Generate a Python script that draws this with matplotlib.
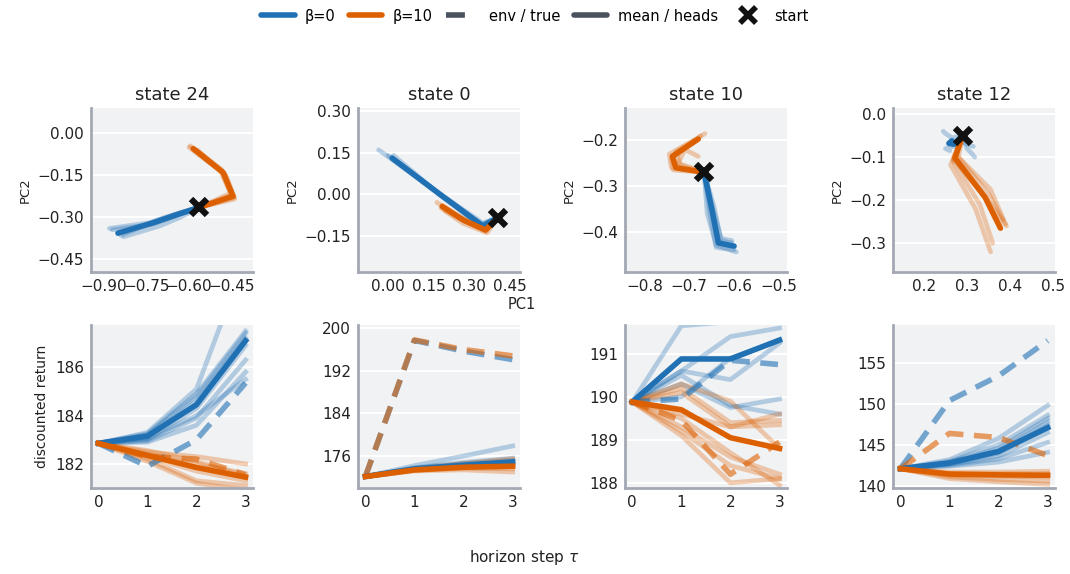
import matplotlib
matplotlib.use("Agg")
import matplotlib.pyplot as plt
from matplotlib.lines import Line2D

BLUE = "#2070b4"
ORANGE = "#dd6000"
GRAY = "#4a5260"

STATES = ["state 24", "state 0", "state 10", "state 12"]
STEPS = [0, 1, 2, 3]

# ---- top row: PC1 / PC2 trajectories, each entry is (pc1 list, pc2 list)
S24_START = (-0.565, -0.265)
S24_B0_MEAN = ([-0.565, -0.64, -0.72, -0.85], [-0.265, -0.29, -0.318, -0.357])
S24_B0_HEADS = [
    ([-0.565, -0.645, -0.73, -0.87], [-0.265, -0.295, -0.325, -0.345]),
    ([-0.565, -0.635, -0.71, -0.84], [-0.265, -0.285, -0.31, -0.365]),
    ([-0.565, -0.65, -0.74, -0.88], [-0.265, -0.29, -0.32, -0.34]),
    ([-0.565, -0.63, -0.70, -0.83], [-0.265, -0.30, -0.33, -0.37]),
]
S24_B10_MEAN = ([-0.565, -0.445, -0.48, -0.585], [-0.265, -0.225, -0.14, -0.055])
S24_B10_HEADS = [
    ([-0.565, -0.44, -0.47, -0.58], [-0.265, -0.23, -0.15, -0.06]),
    ([-0.565, -0.45, -0.49, -0.60], [-0.265, -0.22, -0.135, -0.05]),
    ([-0.565, -0.455, -0.485, -0.595], [-0.265, -0.215, -0.13, -0.045]),
    ([-0.565, -0.44, -0.475, -0.57], [-0.265, -0.235, -0.145, -0.06]),
]

S0_START = (0.405, -0.085)
S0_B0_MEAN = ([0.405, 0.35, 0.19, 0.015], [-0.085, -0.115, 0.0, 0.13])
S0_B0_HEADS = [
    ([0.405, 0.345, 0.17, -0.035], [-0.085, -0.11, 0.015, 0.16]),
    ([0.405, 0.355, 0.20, 0.02], [-0.085, -0.12, -0.01, 0.14]),
    ([0.405, 0.35, 0.185, 0.0], [-0.085, -0.105, 0.005, 0.14]),
    ([0.405, 0.34, 0.20, 0.03], [-0.085, -0.12, -0.005, 0.12]),
]
S0_B10_MEAN = ([0.405, 0.36, 0.28, 0.20], [-0.085, -0.13, -0.095, -0.045])
S0_B10_HEADS = [
    ([0.405, 0.36, 0.27, 0.18], [-0.085, -0.135, -0.09, -0.03]),
    ([0.405, 0.355, 0.285, 0.21], [-0.085, -0.125, -0.10, -0.06]),
    ([0.405, 0.365, 0.275, 0.195], [-0.085, -0.14, -0.105, -0.05]),
    ([0.405, 0.35, 0.27, 0.20], [-0.085, -0.12, -0.085, -0.04]),
]

S10_START = (-0.667, -0.27)
S10_B0_MEAN = ([-0.667, -0.65, -0.635, -0.60], [-0.27, -0.35, -0.425, -0.432])
S10_B0_HEADS = [
    ([-0.667, -0.655, -0.64, -0.60], [-0.27, -0.355, -0.435, -0.44]),
    ([-0.667, -0.645, -0.63, -0.605], [-0.27, -0.345, -0.415, -0.42]),
    ([-0.667, -0.66, -0.64, -0.595], [-0.27, -0.36, -0.43, -0.445]),
    ([-0.667, -0.65, -0.628, -0.605], [-0.27, -0.34, -0.42, -0.425]),
]
S10_B10_MEAN = ([-0.667, -0.73, -0.738, -0.68], [-0.27, -0.26, -0.235, -0.197])
S10_B10_HEADS = [
    ([-0.667, -0.72, -0.73, -0.665], [-0.27, -0.255, -0.225, -0.185]),
    ([-0.667, -0.735, -0.74, -0.675], [-0.27, -0.265, -0.24, -0.19]),
    ([-0.667, -0.725, -0.71, -0.68], [-0.27, -0.25, -0.22, -0.235]),
    ([-0.667, -0.74, -0.745, -0.69], [-0.27, -0.26, -0.23, -0.20]),
]

S12_START = (0.29, -0.05)
S12_B0_MEAN = ([0.29, 0.27, 0.258, 0.265], [-0.05, -0.07, -0.068, -0.062])
S12_B0_HEADS = [
    ([0.29, 0.265, 0.25, 0.245], [-0.05, -0.055, -0.045, -0.04]),
    ([0.29, 0.30, 0.31, 0.318], [-0.05, -0.08, -0.09, -0.10]),
    ([0.29, 0.27, 0.25, 0.26], [-0.05, -0.075, -0.08, -0.085]),
    ([0.29, 0.28, 0.30, 0.315], [-0.05, -0.06, -0.07, -0.075]),
]
S12_B10_MEAN = ([0.29, 0.272, 0.342, 0.378], [-0.05, -0.102, -0.193, -0.265])
S12_B10_HEADS = [
    ([0.29, 0.262, 0.32, 0.355], [-0.05, -0.118, -0.22, -0.32]),
    ([0.29, 0.268, 0.33, 0.36], [-0.05, -0.11, -0.21, -0.30]),
    ([0.29, 0.28, 0.35, 0.39], [-0.05, -0.10, -0.185, -0.255]),
    ([0.29, 0.275, 0.355, 0.385], [-0.05, -0.095, -0.175, -0.245]),
    ([0.29, 0.268, 0.34, 0.392], [-0.05, -0.105, -0.19, -0.26]),
]

PC_LIMS = [
    ((-0.945, -0.375), (-0.496, 0.09)),
    ((-0.111, 0.487), (-0.282, 0.311)),
    ((-0.844, -0.482), (-0.489, -0.129)),
    ((0.128, 0.505), (-0.367, 0.014)),
]
PC_XTICKS = [[-0.90, -0.75, -0.60, -0.45], [0.00, 0.15, 0.30, 0.45],
             [-0.8, -0.7, -0.6, -0.5], [0.2, 0.3, 0.4, 0.5]]
PC_YTICKS = [[0.00, -0.15, -0.30, -0.45], [0.30, 0.15, 0.00, -0.15],
             [-0.2, -0.3, -0.4], [0.0, -0.1, -0.2, -0.3]]
PC_FMT = ["{:.2f}", "{:.2f}", "{:.1f}", "{:.1f}"]

# ---- bottom row: discounted return per horizon step
S24_RET_B0_MEAN = [182.85, 183.15, 184.45, 187.1]
S24_RET_B10_MEAN = [182.85, 182.35, 181.85, 181.45]
S24_RET_B0_TRUE = [182.85, 181.9, 183.0, 185.35]
S24_RET_B10_TRUE = [182.85, 182.3, 182.2, 181.55]
S24_RET_B0_HEADS = [
    [182.85, 183.3, 185.1, 190.5],
    [182.85, 183.2, 184.8, 187.4],
    [182.85, 183.1, 184.6, 187.2],
    [182.85, 183.0, 184.3, 186.9],
    [182.85, 183.25, 184.9, 187.5],
    [182.85, 182.95, 183.9, 186.3],
    [182.85, 182.9, 183.6, 185.8],
    [182.85, 183.05, 184.0, 185.5],
]
S24_RET_B10_HEADS = [
    [182.85, 182.5, 182.3, 182.0],
    [182.85, 182.4, 182.0, 181.6],
    [182.85, 182.3, 181.7, 181.3],
    [182.85, 182.2, 181.3, 181.1],
    [182.85, 182.55, 182.1, 181.5],
    [182.85, 182.1, 181.2, 180.9],
]

S0_RET_B0_MEAN = [172.15, 173.6, 174.3, 174.9]
S0_RET_B10_MEAN = [172.15, 173.4, 173.9, 174.1]
S0_RET_B0_TRUE = [172.15, 197.7, 195.7, 194.1]
S0_RET_B10_TRUE = [172.15, 197.8, 196.0, 194.8]
S0_RET_B0_HEADS = [
    [172.15, 174.2, 176.0, 177.9],
    [172.15, 173.8, 174.8, 175.6],
    [172.15, 173.7, 174.6, 175.2],
    [172.15, 173.5, 174.1, 174.6],
]
S0_RET_B10_HEADS = [
    [172.15, 173.6, 174.6, 175.5],
    [172.15, 173.5, 174.2, 174.8],
    [172.15, 173.3, 173.7, 173.6],
    [172.15, 173.2, 173.4, 173.0],
    [172.15, 173.4, 173.9, 174.3],
]

S10_RET_B0_MEAN = [189.88, 190.88, 190.88, 191.32]
S10_RET_B10_MEAN = [189.88, 189.7, 189.05, 188.8]
S10_RET_B0_TRUE = [189.88, 189.95, 190.85, 190.75]
S10_RET_B10_TRUE = [189.88, 189.45, 188.2, 188.95]
S10_RET_B0_HEADS = [
    [189.88, 191.65, 191.75, 191.85],
    [189.88, 190.6, 191.4, 191.6],
    [189.88, 190.6, 190.4, 191.25],
    [189.88, 190.3, 189.75, 189.95],
    [189.88, 190.5, 189.8, 189.6],
    [189.88, 190.0, 190.9, 191.3],
]
S10_RET_B10_HEADS = [
    [189.88, 190.3, 189.9, 188.8],
    [189.88, 190.2, 189.4, 189.45],
    [189.88, 190.1, 189.3, 189.35],
    [189.88, 189.6, 189.3, 189.6],
    [189.88, 189.2, 188.4, 188.1],
    [189.88, 189.1, 188.0, 188.1],
    [189.88, 189.5, 188.7, 187.95],
    [189.88, 189.3, 188.6, 188.2],
]

S12_RET_B0_MEAN = [142.1, 142.8, 144.2, 147.1]
S12_RET_B10_MEAN = [142.1, 141.45, 141.35, 141.3]
S12_RET_B0_TRUE = [142.1, 150.4, 153.4, 157.7]
S12_RET_B10_TRUE = [142.1, 146.4, 145.9, 143.7]
S12_RET_B0_HEADS = [
    [142.1, 143.2, 145.8, 149.8],
    [142.1, 143.0, 145.0, 148.6],
    [142.1, 142.9, 144.6, 148.2],
    [142.1, 142.8, 144.3, 147.8],
    [142.1, 142.7, 144.0, 147.4],
    [142.1, 142.6, 143.6, 146.5],
    [142.1, 142.5, 143.3, 145.3],
    [142.1, 142.4, 142.9, 144.1],
]
S12_RET_B10_HEADS = [
    [142.1, 141.7, 141.7, 141.8],
    [142.1, 141.5, 141.5, 141.5],
    [142.1, 141.3, 141.2, 141.1],
    [142.1, 141.1, 140.8, 140.6],
    [142.1, 140.9, 140.5, 140.2],
]

RET_YLIMS = [(181.0, 187.75), (170.0, 200.6), (187.88, 191.67), (139.75, 159.6)]
RET_YTICKS = [[182, 184, 186], [176, 184, 192, 200], [188, 189, 190, 191],
              [140, 145, 150, 155]]

PC_DATA = [
    (S24_START, S24_B0_MEAN, S24_B0_HEADS, S24_B10_MEAN, S24_B10_HEADS),
    (S0_START, S0_B0_MEAN, S0_B0_HEADS, S0_B10_MEAN, S0_B10_HEADS),
    (S10_START, S10_B0_MEAN, S10_B0_HEADS, S10_B10_MEAN, S10_B10_HEADS),
    (S12_START, S12_B0_MEAN, S12_B0_HEADS, S12_B10_MEAN, S12_B10_HEADS),
]
RET_DATA = [
    (S24_RET_B0_MEAN, S24_RET_B0_HEADS, S24_RET_B0_TRUE,
     S24_RET_B10_MEAN, S24_RET_B10_HEADS, S24_RET_B10_TRUE),
    (S0_RET_B0_MEAN, S0_RET_B0_HEADS, S0_RET_B0_TRUE,
     S0_RET_B10_MEAN, S0_RET_B10_HEADS, S0_RET_B10_TRUE),
    (S10_RET_B0_MEAN, S10_RET_B0_HEADS, S10_RET_B0_TRUE,
     S10_RET_B10_MEAN, S10_RET_B10_HEADS, S10_RET_B10_TRUE),
    (S12_RET_B0_MEAN, S12_RET_B0_HEADS, S12_RET_B0_TRUE,
     S12_RET_B10_MEAN, S12_RET_B10_HEADS, S12_RET_B10_TRUE),
]

HEAD_LW = 3.4
MEAN_LW = 4.0
DASH = (0, (3.2, 1.9))


def style_axes(ax):
    ax.set_facecolor("#f1f2f4")
    for side in ("top", "right"):
        ax.spines[side].set_visible(False)
    for side in ("left", "bottom"):
        ax.spines[side].set_color("#a3a8b3")
        ax.spines[side].set_linewidth(2.0)
    ax.tick_params(length=0, labelsize=11, colors="#222222", pad=5)
    ax.yaxis.grid(True, color="white", linewidth=1.5)
    ax.xaxis.grid(False)
    ax.set_axisbelow(True)


fig = plt.figure(figsize=(10.7, 5.74), dpi=100)
lefts = [0.085, 0.3346, 0.584, 0.8346]
width = 0.1514

for i in range(4):
    # top row
    ax = fig.add_axes([lefts[i], 0.526, width, 0.2857])
    style_axes(ax)
    start, b0_mean, b0_heads, b10_mean, b10_heads = PC_DATA[i]
    for hx, hy in b0_heads:
        ax.plot(hx, hy, color=BLUE, lw=HEAD_LW, alpha=0.3, solid_capstyle="round")
    for hx, hy in b10_heads:
        ax.plot(hx, hy, color=ORANGE, lw=HEAD_LW, alpha=0.3, solid_capstyle="round")
    ax.plot(*b0_mean, color=BLUE, lw=MEAN_LW, solid_capstyle="round")
    ax.plot(*b10_mean, color=ORANGE, lw=MEAN_LW, solid_capstyle="round")
    ax.plot(*start, marker="x", color="#111111", ms=11, mew=4.5, zorder=5)
    (xl, yl) = PC_LIMS[i]
    ax.set_xlim(*xl)
    ax.set_ylim(*yl)
    ax.set_xticks(PC_XTICKS[i])
    ax.set_xticklabels([PC_FMT[i].format(v).replace("-", "\u2212") for v in PC_XTICKS[i]])
    ax.set_yticks(PC_YTICKS[i])
    ax.set_yticklabels([PC_FMT[i].format(v).replace("-", "\u2212") for v in PC_YTICKS[i]])
    ax.set_ylabel("PC2", fontsize=9.5, color="#222222")
    ax.set_title(STATES[i], fontsize=13, color="#222222")

    # bottom row
    ax2 = fig.add_axes([lefts[i], 0.1498, width, 0.284])
    style_axes(ax2)
    b0m, b0h, b0t, b10m, b10h, b10t = RET_DATA[i]
    for h in b0h:
        ax2.plot(STEPS, h, color=BLUE, lw=HEAD_LW, alpha=0.3)
    for h in b10h:
        ax2.plot(STEPS, h, color=ORANGE, lw=HEAD_LW, alpha=0.3)
    ax2.plot(STEPS, b0t, color=BLUE, lw=MEAN_LW, alpha=0.6, ls=DASH)
    ax2.plot(STEPS, b10t, color=ORANGE, lw=MEAN_LW, alpha=0.6, ls=DASH)
    ax2.plot(STEPS, b0m, color=BLUE, lw=MEAN_LW)
    ax2.plot(STEPS, b10m, color=ORANGE, lw=MEAN_LW)
    ax2.set_xlim(-0.15, 3.15)
    ax2.set_ylim(*RET_YLIMS[i])
    ax2.set_xticks(STEPS)
    ax2.set_yticks(RET_YTICKS[i])
    if i == 0:
        ax2.set_ylabel("discounted return", fontsize=10, color="#222222")

fig.text(0.488, 0.469, "PC1", ha="center", va="center", fontsize=10.5, color="#222222")
fig.text(0.49, 0.028, r"horizon step $\tau$", ha="center", va="center",
         fontsize=11, color="#222222")

handles = [
    Line2D([], [], color=BLUE, lw=4, solid_capstyle="round"),
    Line2D([], [], color=ORANGE, lw=4, solid_capstyle="round"),
    Line2D([], [], color=GRAY, lw=4, ls=(0, (3.4, 5))),
    Line2D([], [], color=GRAY, lw=4, solid_capstyle="round"),
    Line2D([], [], color="#111111", ls="none", marker="x", ms=11, mew=4),
]
labels = ["\u03b2=0", "\u03b2=10", "env / true", "mean / heads", "start"]
fig.legend(handles, labels, loc="upper center", bbox_to_anchor=(0.5, 1.008),
           ncol=5, frameon=False, fontsize=10.5, handlelength=2.3,
           columnspacing=0.9, handletextpad=0.7)

fig.savefig("out.png", dpi=100)
